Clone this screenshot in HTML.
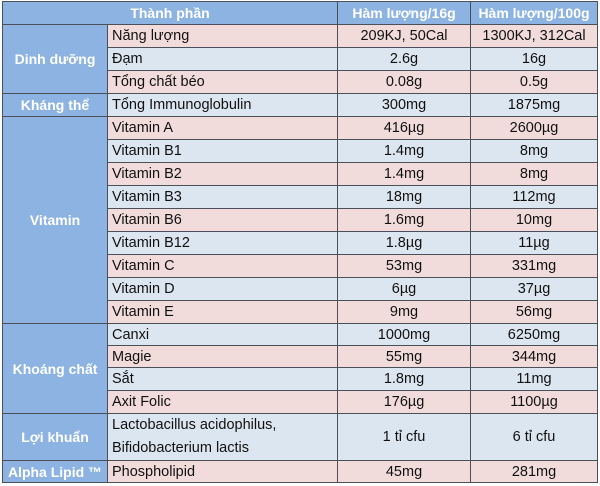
<!DOCTYPE html>
<html><head><meta charset="utf-8"><style>
body{margin:0;width:600px;height:486px;background:#fff;position:relative;overflow:hidden;font-family:"Liberation Sans","DejaVu Sans",sans-serif;}
.c{position:absolute;box-sizing:border-box;border:1px solid #4a4f58;display:flex;align-items:center;font-size:14.5px;color:#111;white-space:nowrap;overflow:hidden}
.h{background:#8db3e2;color:#fff;font-weight:bold;justify-content:center;font-size:14px}
.p{background:#f2dcdb}.b{background:#dce6f1}
.l{padding-left:4px}.m{justify-content:center}
</style></head><body>
<div class="c h" style="left:2px;top:1px;width:336px;height:24px">Thành phần</div>
<div class="c h" style="left:337px;top:1px;width:134px;height:24px">Hàm lượng/16g</div>
<div class="c h" style="left:470px;top:1px;width:128px;height:24px">Hàm lượng/100g</div>
<div id="rows"></div>
<script>
var rows=[["Năng lượng","209KJ, 50Cal","1300KJ, 312Cal"],["Đạm","2.6g","16g"],["Tổng chất béo","0.08g","0.5g"],["Tổng Immunoglobulin","300mg","1875mg"],["Vitamin A","416µg","2600µg"],["Vitamin B1","1.4mg","8mg"],["Vitamin B2","1.4mg","8mg"],["Vitamin B3","18mg","112mg"],["Vitamin B6","1.6mg","10mg"],["Vitamin B12","1.8µg","11µg"],["Vitamin C","53mg","331mg"],["Vitamin D","6µg","37µg"],["Vitamin E","9mg","56mg"],["Canxi","1000mg","6250mg"],["Magie","55mg","344mg"],["Sắt","1.8mg","11mg"],["Axit Folic","176µg","1100µg"],["Lactobacillus acidophilus,<br>Bifidobacterium lactis","1 tỉ cfu","6 tỉ cfu"],["Phospholipid","45mg","281mg"]];
var tops=[24,47,70,93,116,139,162,185,208,231,254,277,300,323,345,367,390,413,460,482];
var groups=[["Dinh dưỡng",0,3],["Kháng thể",3,4],["Vitamin",4,13],["Khoáng chất",13,17],["Lợi khuẩn",17,18],["Alpha Lipid ™",18,19]];
var h="";
rows.forEach(function(r,i){var t=tops[i],hh=tops[i+1]-t+1,cl=i%2?"b":"p";
h+='<div class="c '+cl+' l" style="left:107px;top:'+t+'px;width:231px;height:'+hh+'px">'+(i==17?'<div style="line-height:23px">'+r[0]+'</div>':r[0])+'</div>';
h+='<div class="c '+cl+' m" style="left:337px;top:'+t+'px;width:134px;height:'+hh+'px">'+r[1]+'</div>';
h+='<div class="c '+cl+' m" style="left:470px;top:'+t+'px;width:128px;height:'+hh+'px">'+r[2]+'</div>';});
groups.forEach(function(g){var t=tops[g[1]],hh=tops[g[2]]-t+1;
h+='<div class="c h" style="left:2px;top:'+t+'px;width:106px;height:'+hh+'px">'+g[0]+'</div>';});
document.getElementById("rows").innerHTML=h;
</script>
</body></html>
